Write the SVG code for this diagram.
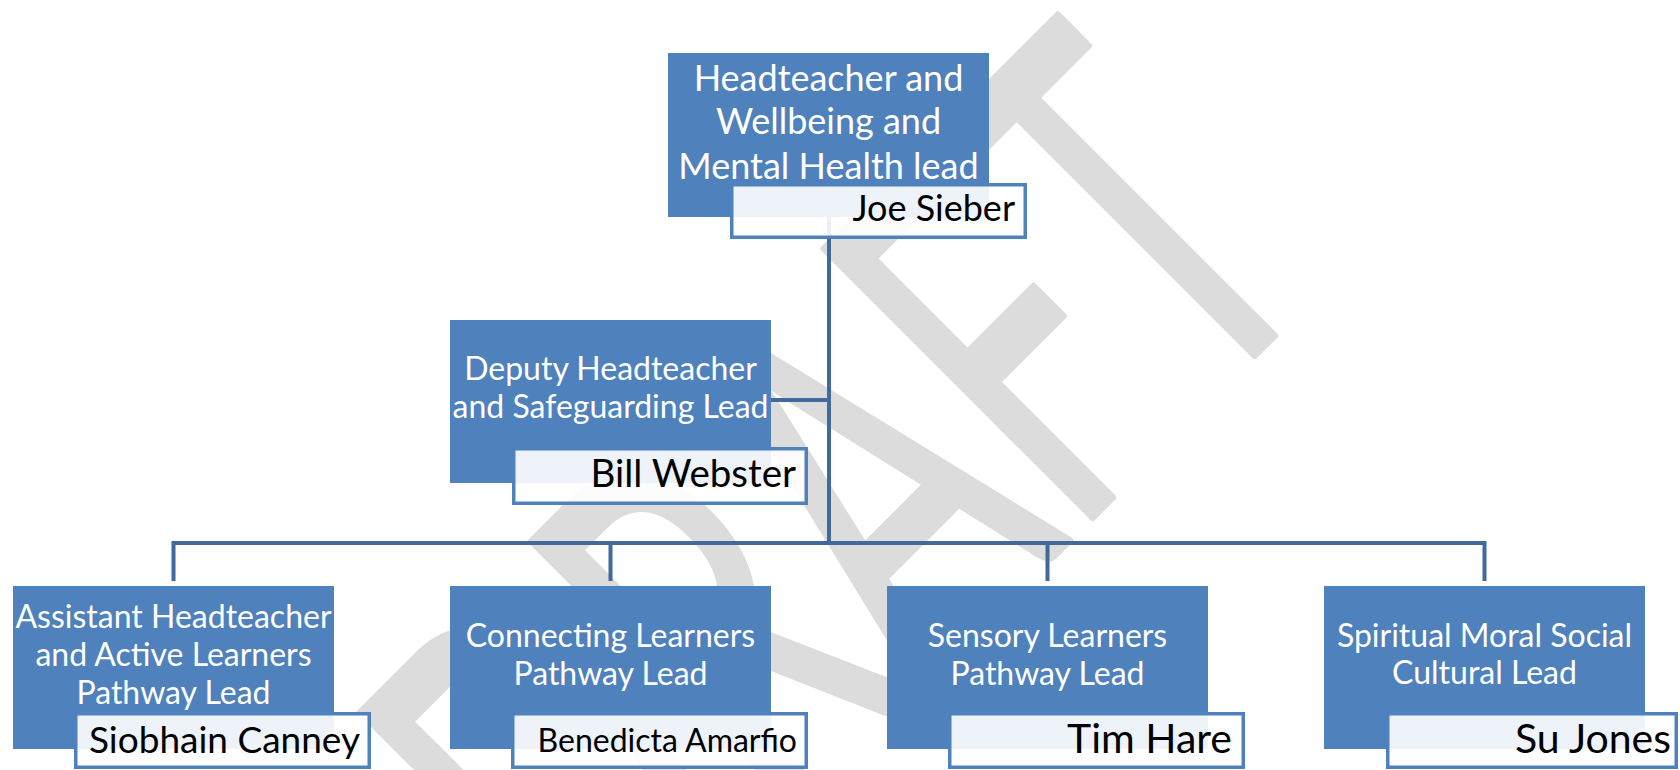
<svg xmlns="http://www.w3.org/2000/svg" width="1680" height="770" viewBox="0 0 1680 770">
<style>
.bg{fill:#ffffff}
.wm{font-family:Lato,"Liberation Sans",sans-serif;fill:#dcdcdc;stroke:#dcdcdc;stroke-width:7;stroke-linejoin:round}
.box{fill:#4F81BD}
.nb{fill:#ffffff;fill-opacity:0.9;stroke:#4F81BD;stroke-width:3.5}
.t{font-family:Lato,"Liberation Sans",sans-serif;fill:#ffffff;text-anchor:middle}
.n{font-family:Lato,"Liberation Sans",sans-serif;fill:#000000;text-anchor:end}
.c{stroke:#41699C;stroke-width:4;fill:none;stroke-linecap:butt}
</style>
<rect class="bg" x="0" y="0" width="1680" height="770"/>
<g id="watermark">
<text class="wm" x="0" y="0" font-size="530" textLength="1022" lengthAdjust="spacingAndGlyphs" transform="translate(608,1002) rotate(-45)">DRAFT</text>
</g>
<g id="connectors">
<path class="c" d="M829,217 V543"/>
<path class="c" d="M771,400 H829"/>
<path class="c" d="M173.5,581 V543 H1484.5 V581"/>
<path class="c" d="M610.5,543 V581"/>
<path class="c" d="M1047.5,543 V581"/>
</g>
<g id="node-head">
<rect class="box" x="668" y="53" width="321" height="164"/>
<text class="t" font-size="36" x="828.5" y="91">Headteacher and</text>
<text class="t" font-size="36" x="828.5" y="134">Wellbeing and</text>
<text class="t" font-size="36" x="828.5" y="179">Mental Health lead</text>
<rect class="nb" x="731.75" y="184.75" width="293.5" height="52.5"/>
<text class="n" font-size="36" x="1015" y="221">Joe Sieber</text>
</g>
<g id="node-deputy">
<rect class="box" x="450" y="320" width="321" height="163"/>
<text class="t" font-size="32" x="610.5" y="380">Deputy Headteacher</text>
<text class="t" font-size="32" x="610.5" y="418">and Safeguarding Lead</text>
<rect class="nb" x="513.75" y="448.75" width="292.5" height="54.5"/>
<text class="n" font-size="38.5" x="796" y="487">Bill Webster</text>
</g>
<g id="node-assistant">
<rect class="box" x="13" y="586" width="321" height="163"/>
<text class="t" font-size="32" x="173.5" y="628">Assistant Headteacher</text>
<text class="t" font-size="32" x="173.5" y="666">and Active Learners</text>
<text class="t" font-size="32" x="173.5" y="704">Pathway Lead</text>
<rect class="nb" x="75.75" y="713.75" width="293.5" height="53.5"/>
<text class="n" font-size="37" x="360" y="753">Siobhain Canney</text>
</g>
<g id="node-connecting">
<rect class="box" x="450" y="586" width="321" height="163"/>
<text class="t" font-size="32" x="610.5" y="647">Connecting Learners</text>
<text class="t" font-size="32" x="610.5" y="685">Pathway Lead</text>
<rect class="nb" x="512.75" y="713.75" width="293.5" height="53.5"/>
<text class="n" font-size="32" x="797" y="752">Benedicta Amarfio</text>
</g>
<g id="node-sensory">
<rect class="box" x="887" y="586" width="321" height="163"/>
<text class="t" font-size="32" x="1047.5" y="647">Sensory Learners</text>
<text class="t" font-size="32" x="1047.5" y="685">Pathway Lead</text>
<rect class="nb" x="949.75" y="713.75" width="293.5" height="53.5"/>
<text class="n" font-size="41" x="1232" y="753">Tim Hare</text>
</g>
<g id="node-smsc">
<rect class="box" x="1324" y="586" width="321" height="163"/>
<text class="t" font-size="32" x="1484.5" y="647">Spiritual Moral Social</text>
<text class="t" font-size="32" x="1484.5" y="684">Cultural Lead</text>
<rect class="nb" x="1387.75" y="713.75" width="288.5" height="53.5"/>
<text class="n" font-size="41" x="1671" y="753">Su Jones</text>
</g>
</svg>
